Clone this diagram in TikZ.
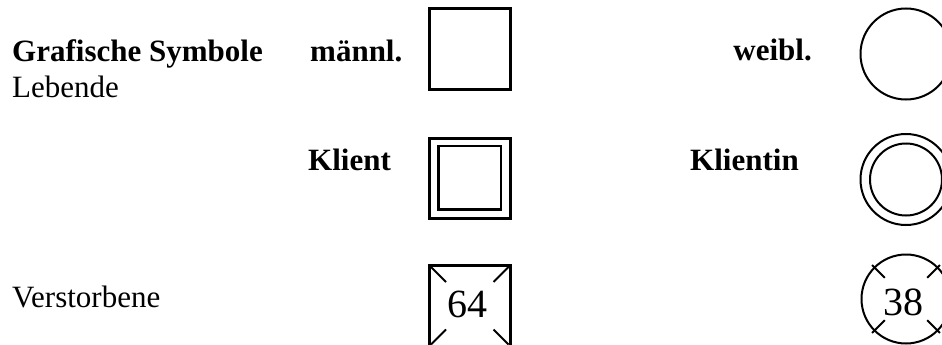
\documentclass[tikz,border=0pt]{standalone}
\usepackage{fontspec}
\setmainfont{Liberation Serif}
\begin{document}
\begin{tikzpicture}[x=1pt,y=-1pt,
  lbl/.style={inner sep=0pt,anchor=base west,font=\fontsize{31}{35}\selectfont},
  blbl/.style={lbl,font=\fontsize{31}{35}\selectfont\bfseries},
  num/.style={inner sep=0pt,anchor=base,font=\fontsize{40}{44}\selectfont},
  sq/.style={draw,line width=3pt},
  ci/.style={draw,line width=2pt}]
\clip (0,0) rectangle (942,345);
\fill[white] (0,0) rectangle (942,345);
% texts
\node[blbl] (t1) at (12,62) {Grafische Symbole};
\node[blbl] (t2) at (310,62) {männl.};
\node[blbl,anchor=base east] (t3) at (812,60) {weibl.};
\node[lbl] (t4) at (12,97) {Lebende};
\node[blbl] (t5) at (308,170) {Klient};
\node[blbl] (t6) at (690,170) {Klientin};
\node[lbl] (t7) at (12,307) {Verstorbene};
% squares
\draw[sq] (429.5,8.5) rectangle (510,89);
\draw[sq] (429.5,138.5) rectangle (510,218);
\draw[line width=2.5pt] (438.5,146) rectangle (501,209.5);
\draw[sq] (429.5,265.5) rectangle (510,346);
\draw[line width=2pt] (431,267) -- (446,282)
  (508.5,267) -- (493.5,282)
  (431,344.5) -- (446,329.5)
  (508.5,344.5) -- (493.5,329.5);
\node[num] (n64) at (467,317) {64};
% circles
\draw[ci] (906,54) circle[radius=45.5];
\draw[ci] (906,179.5) circle[radius=45.5];
\draw[ci] (906,179.5) circle[radius=36];
\draw[ci] (906,299) circle[radius=44.5];
\foreach \a in {45,135,225,315}
  \draw[ci] (906,299) ++(\a:30) -- ++(\a:18);
\node[num] (n38) at (903,315) {38};
\end{tikzpicture}
\end{document}
